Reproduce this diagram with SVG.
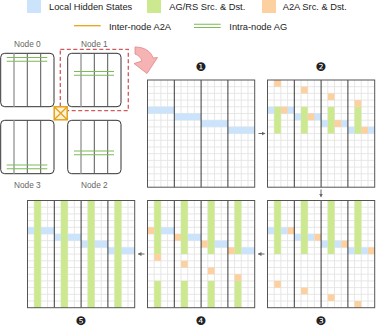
<svg xmlns="http://www.w3.org/2000/svg" xmlns:xlink="http://www.w3.org/1999/xlink" width="377" height="329" viewBox="0 0 377 329">
<style>
text{font-family:"Liberation Sans",Arial,sans-serif}
.lg{font-size:9.3px;fill:#222}
.nl{font-size:8.3px;fill:#666;text-anchor:middle}
.num{font-family:"DejaVu Sans",sans-serif;font-size:12px;fill:#222;text-anchor:middle}
.b{fill:#cce4fb}.g{fill:#cde98f}.o{fill:#fdd0a0}
.node{fill:#fff;stroke:#333;stroke-width:1}
.ag{stroke:#7dbb57;stroke-width:1.1;fill:none}
.sa{stroke:#666;stroke-width:1;fill:none}
</style>
<defs>
<g id="gl"><path d="M6.7 0V107.2M13.4 0V107.2M20.1 0V107.2M33.5 0V107.2M40.2 0V107.2M46.9 0V107.2M60.3 0V107.2M67 0V107.2M73.7 0V107.2M87.1 0V107.2M93.8 0V107.2M100.5 0V107.2M0 6.7H107.2M0 13.4H107.2M0 20.1H107.2M0 26.8H107.2M0 33.5H107.2M0 40.2H107.2M0 46.9H107.2M0 53.6H107.2M0 60.3H107.2M0 67H107.2M0 73.7H107.2M0 80.4H107.2M0 87.1H107.2M0 93.8H107.2M0 100.5H107.2" stroke="#e4e4e4" stroke-width="0.9" fill="none"/></g>
<g id="gb"><path d="M26.8 0V107.2M53.6 0V107.2M80.4 0V107.2" stroke="#3a3a3a" stroke-width="1" fill="none"/><rect width="107.2" height="107.2" fill="none" stroke="#555" stroke-width="1"/></g>
<g id="blue4"><rect class="b" x="0" y="4" width="4" height="1"/><rect class="b" x="4" y="5" width="4" height="1"/><rect class="b" x="8" y="6" width="4" height="1"/><rect class="b" x="12" y="7" width="4" height="1"/></g>
<marker id="ah" markerWidth="4" markerHeight="4" refX="3" refY="2" orient="auto" markerUnits="userSpaceOnUse"><path d="M0 0L4 2L0 4Z" fill="#666"/></marker>
</defs>
<rect width="377" height="329" fill="#fff"/>

<g id="legend">
<rect class="b" x="27" y="0" width="14" height="13"/>
<text class="lg" x="49" y="10">Local Hidden States</text>
<rect class="g" x="147" y="0" width="14" height="13"/>
<text class="lg" x="169.3" y="10">AG/RS Src. &amp; Dst.</text>
<rect class="o" x="262" y="0" width="14" height="13"/>
<text class="lg" x="282.7" y="10">A2A Src. &amp; Dst.</text>
<path d="M74 25.7H100.7" stroke="#e8a317" stroke-width="1.3"/>
<text class="lg" x="109" y="29.5">Inter-node A2A</text>
<path class="ag" d="M194 24.2H220.7M194 27.5H220.7"/>
<text class="lg" x="229.3" y="29.5">Intra-node AG</text>
</g>

<g id="node0">
<text class="nl" x="27.3" y="46.5">Node 0</text>
<rect class="node" x="0.7" y="53.3" width="53.3" height="53.4" rx="4"/>
<path d="M14 53.3V106.7" stroke="#9a9a9a" stroke-width="1.4"/><path d="M27.3 53.3V106.7M40.7 53.3V106.7" stroke="#555" stroke-width="1"/>
<path class="ag" d="M6.7 57.5H47.3M6.7 61.2H47.3"/>
</g>
<g id="node1">
<text class="nl" x="94.3" y="46.5">Node 1</text>
<rect class="node" x="67.7" y="53.3" width="53.3" height="53.4" rx="4"/>
<path d="M81 53.3V106.7" stroke="#9a9a9a" stroke-width="1.4"/><path d="M94.3 53.3V106.7M107.7 53.3V106.7" stroke="#555" stroke-width="1"/>
<path class="ag" d="M74 71.5H114M74 75.2H114"/>
</g>
<g id="node3">
<text class="nl" x="27.3" y="187.5">Node 3</text>
<rect class="node" x="0.7" y="120.3" width="53.3" height="53.4" rx="4"/>
<path d="M14 120.3V173.7" stroke="#9a9a9a" stroke-width="1.4"/><path d="M27.3 120.3V173.7M40.7 120.3V173.7" stroke="#555" stroke-width="1"/>
<path class="ag" d="M6.7 165H47.3M6.7 168.7H47.3"/>
</g>
<g id="node2">
<text class="nl" x="94.3" y="187.5">Node 2</text>
<rect class="node" x="67.7" y="120.3" width="53.3" height="53.4" rx="4"/>
<path d="M81 120.3V173.7" stroke="#9a9a9a" stroke-width="1.4"/><path d="M94.3 120.3V173.7M107.7 120.3V173.7" stroke="#555" stroke-width="1"/>
<path class="ag" d="M74 151H114M74 154.7H114"/>
</g>
<g id="highlight">
<rect x="60.3" y="49.3" width="68" height="61.4" fill="none" stroke="#d05a5a" stroke-width="1.3" stroke-dasharray="4 2.5"/>
</g>
<g id="switch">
<rect x="54.2" y="106.8" width="13" height="13" fill="#fdf3dc" stroke="#e3a21a" stroke-width="1.5"/>
<path d="M54.2 106.8L67.2 119.8M67.2 106.8L54.2 119.8" stroke="#e3a21a" stroke-width="1.3"/>
</g>
<g id="zoomarrow">
<path d="M135 47C144 47 151 51 153 58L157.5 57.5L147 73.5L134 63.5L142 61C141 57.5 138 55 135 54Z" fill="#f6b3b3" stroke="#e08585" stroke-width="0.8"/>
</g>

<g id="step1" transform="translate(147.5,80)">
<rect width="107.2" height="107.2" fill="#fff"/><use xlink:href="#gl"/>
<g transform="scale(6.7)"><use xlink:href="#blue4"/></g>
<use xlink:href="#gb"/>
</g>
<g id="step2" transform="translate(267.5,80)">
<rect width="107.2" height="107.2" fill="#fff"/><use xlink:href="#gl"/>
<g transform="scale(6.7)"><use xlink:href="#blue4"/>
<rect class="g" x="1" y="4" width="1" height="4"/><rect class="g" x="5" y="4" width="1" height="4"/><rect class="g" x="9" y="4" width="1" height="4"/><rect class="g" x="13" y="4" width="1" height="4"/>
<rect class="o" x="1" y="0" width="1" height="1"/><rect class="o" x="5" y="1" width="1" height="1"/><rect class="o" x="9" y="2" width="1" height="1"/><rect class="o" x="13" y="3" width="1" height="1"/>
<rect class="o" x="2" y="4" width="1" height="1"/><rect class="o" x="6" y="5" width="1" height="1"/><rect class="o" x="10" y="6" width="1" height="1"/><rect class="o" x="14" y="7" width="1" height="1"/>
</g>
<use xlink:href="#gb"/>
</g>
<g id="step3" transform="translate(267.5,200.5)">
<rect width="107.2" height="107.2" fill="#fff"/><use xlink:href="#gl"/>
<g transform="scale(6.7)">
<rect class="b" x="0" y="4" width="3" height="1"/><rect class="b" x="4" y="5" width="3" height="1"/><rect class="b" x="8" y="6" width="3" height="1"/><rect class="b" x="12" y="7" width="3" height="1"/>
<rect class="g" x="1" y="0" width="1" height="8"/><rect class="g" x="5" y="0" width="1" height="8"/><rect class="g" x="9" y="0" width="1" height="8"/><rect class="g" x="13" y="0" width="1" height="8"/>
<rect class="o" x="3" y="4" width="1" height="1"/><rect class="o" x="7" y="5" width="1" height="1"/><rect class="o" x="11" y="6" width="1" height="1"/><rect class="o" x="15" y="7" width="1" height="1"/>
<rect class="o" x="1" y="12" width="1" height="1"/><rect class="o" x="5" y="13" width="1" height="1"/><rect class="o" x="9" y="14" width="1" height="1"/><rect class="o" x="13" y="15" width="1" height="1"/>
</g>
<use xlink:href="#gb"/>
</g>
<g id="step4" transform="translate(147.5,200.5)">
<rect width="107.2" height="107.2" fill="#fff"/><use xlink:href="#gl"/>
<g transform="scale(6.7)">
<rect class="b" x="2" y="4" width="2" height="1"/><rect class="b" x="6" y="5" width="2" height="1"/><rect class="b" x="10" y="6" width="2" height="1"/><rect class="b" x="14" y="7" width="2" height="1"/>
<rect class="g" x="1" y="0" width="1" height="8"/><rect class="g" x="5" y="0" width="1" height="8"/><rect class="g" x="9" y="0" width="1" height="8"/><rect class="g" x="13" y="0" width="1" height="8"/>
<rect class="g" x="1" y="12" width="1" height="4"/><rect class="g" x="5" y="12" width="1" height="4"/><rect class="g" x="9" y="12" width="1" height="4"/><rect class="g" x="13" y="12" width="1" height="4"/>
<rect class="o" x="0" y="4" width="1" height="1"/><rect class="o" x="4" y="5" width="1" height="1"/><rect class="o" x="8" y="6" width="1" height="1"/><rect class="o" x="12" y="7" width="1" height="1"/>
<rect class="o" x="1" y="8" width="1" height="1"/><rect class="o" x="5" y="9" width="1" height="1"/><rect class="o" x="9" y="10" width="1" height="1"/><rect class="o" x="13" y="11" width="1" height="1"/>
</g>
<use xlink:href="#gb"/>
</g>
<g id="step5" transform="translate(27.5,200.5)">
<rect width="107.2" height="107.2" fill="#fff"/><use xlink:href="#gl"/>
<g transform="scale(6.7)"><use xlink:href="#blue4"/>
<rect class="g" x="1" y="0" width="1" height="16"/><rect class="g" x="5" y="0" width="1" height="16"/><rect class="g" x="9" y="0" width="1" height="16"/><rect class="g" x="13" y="0" width="1" height="16"/>
</g>
<use xlink:href="#gb"/>
</g>

<g id="labels">
<text class="num" x="201" y="71">❶</text>
<text class="num" x="321" y="71">❷</text>
<text class="num" x="321" y="325.3">❸</text>
<text class="num" x="201" y="325.3">❹</text>
<text class="num" x="81" y="325.3">❺</text>
</g>

<g id="connectors">
<path class="sa" d="M258.5 133.5H264.5" marker-end="url(#ah)"/>
<path class="sa" d="M321 189.5V196.5" marker-end="url(#ah)"/>
<path class="sa" d="M264.5 254H258.5" marker-end="url(#ah)"/>
<path class="sa" d="M144.5 254H138.5" marker-end="url(#ah)"/>
</g>
</svg>
